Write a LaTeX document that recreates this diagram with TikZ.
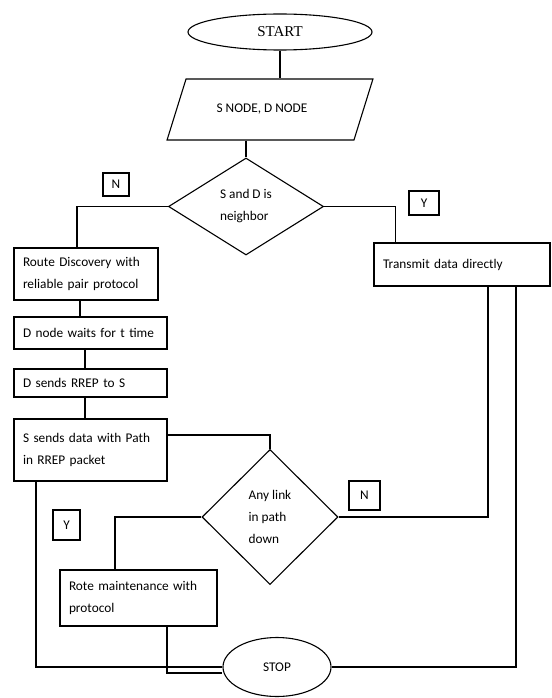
\documentclass[tikz,border=0pt]{standalone}
\usepackage{fontspec}
\setmainfont{Carlito}
\newfontfamily\timesfont{Liberation Serif}
\usetikzlibrary{shapes.geometric}

\begin{document}
\begin{tikzpicture}[
  x=1pt,y=-1pt,
  every node/.style={font=\fontsize{13.3}{22}\selectfont},
  line/.style={line width=1.1pt},
  terminal/.style={ellipse,draw,line width=1.1pt,inner sep=0pt},
  iobox/.style={trapezium,trapezium left angle=53,trapezium right angle=127,trapezium stretches=true,draw,line width=1.1pt,minimum width=206pt,minimum height=61pt},
  procbox/.style={rectangle,draw,line width=1.1pt,align=left,inner xsep=9pt,inner ysep=0pt},
  decision/.style={diamond,draw,line width=1.1pt,align=left,inner sep=0pt},
  answer/.style={rectangle,draw,line width=1.1pt,inner sep=0pt},
]
\useasboundingbox (0,0) rectangle (551,698);

\node (start) [terminal,minimum width=184pt,minimum height=36pt,font=\timesfont\fontsize{15}{18}\selectfont] at (280,32) {START};
\node (input) [iobox] at (270,109.5) {S NODE, D NODE\hspace*{16pt}};
\node (neigh) [decision,minimum width=155pt,minimum height=97pt] at (246,206.5) {S and D is\\neighbor};
\node (no1) [answer,minimum width=26pt,minimum height=23pt] at (116,184.5) {N};
\node (yes1) [answer,minimum width=30pt,minimum height=24pt] at (424,203) {Y};

\node (route) [procbox,text width=126pt,minimum height=52pt] at (86,274) {Route Discovery  with\\reliable pair protocol};
\node (wait) [procbox,text width=135pt,minimum height=32pt] at (90.5,333) {D node  waits for t time};
\node (rrep) [procbox,text width=135pt,minimum height=28pt] at (90.5,383) {D sends RREP to S};
\node (send) [procbox,text width=135pt,minimum height=62pt] at (90.5,450) {S sends data with Path\\in RREP packet};
\node (direct) [procbox,text width=158pt,minimum height=43pt] at (462,264.5) {Transmit data directly};

\node (down) [decision,minimum width=136pt,minimum height=135pt] at (270,517) {Any link\\in path\\down};
\node (no2) [answer,minimum width=31pt,minimum height=29pt] at (364.5,495.5) {N};
\node (yes2) [answer,minimum width=27pt,minimum height=30pt] at (66.5,525) {Y};
\node (maint) [procbox,text width=139pt,minimum height=56pt] at (138.5,598) {Rote maintenance with\\protocol};
\node (stop) [terminal,minimum width=108pt,minimum height=59pt] at (277,667) {STOP};

\draw[line] (start.south) -- (start.south |- input.north);
\draw[line] (input.south -| neigh.north) -- (neigh.north);
\draw[line] (neigh.west) -| ([xshift=-9pt]route.north);
\draw[line] (neigh.east) -| ([xshift=22pt]direct.north west);
\draw[line] ([xshift=-6pt]route.south) -- ([xshift=-6pt]route.south |- wait.north);
\draw[line] ([xshift=-5.5pt]wait.south) -- ([xshift=-5.5pt]wait.south |- rrep.north);
\draw[line] ([xshift=-5.5pt]rrep.south) -- ([xshift=-5.5pt]rrep.south |- send.north);
\draw[line] ([yshift=15pt]send.east) -| (down.north);
\draw[line] (down.east) -| ([xshift=26pt]direct.south);
\draw[line] (down.west) -| ([xshift=-23.5pt]maint.north);
\draw[line] ([xshift=54pt]direct.south) |- (stop.east);
\draw[line] ([xshift=-54.5pt]send.south) |- (stop.west);
\draw[line] ([xshift=28.5pt]maint.south) |- ([yshift=-6pt]stop.west);
\end{tikzpicture}
\end{document}
